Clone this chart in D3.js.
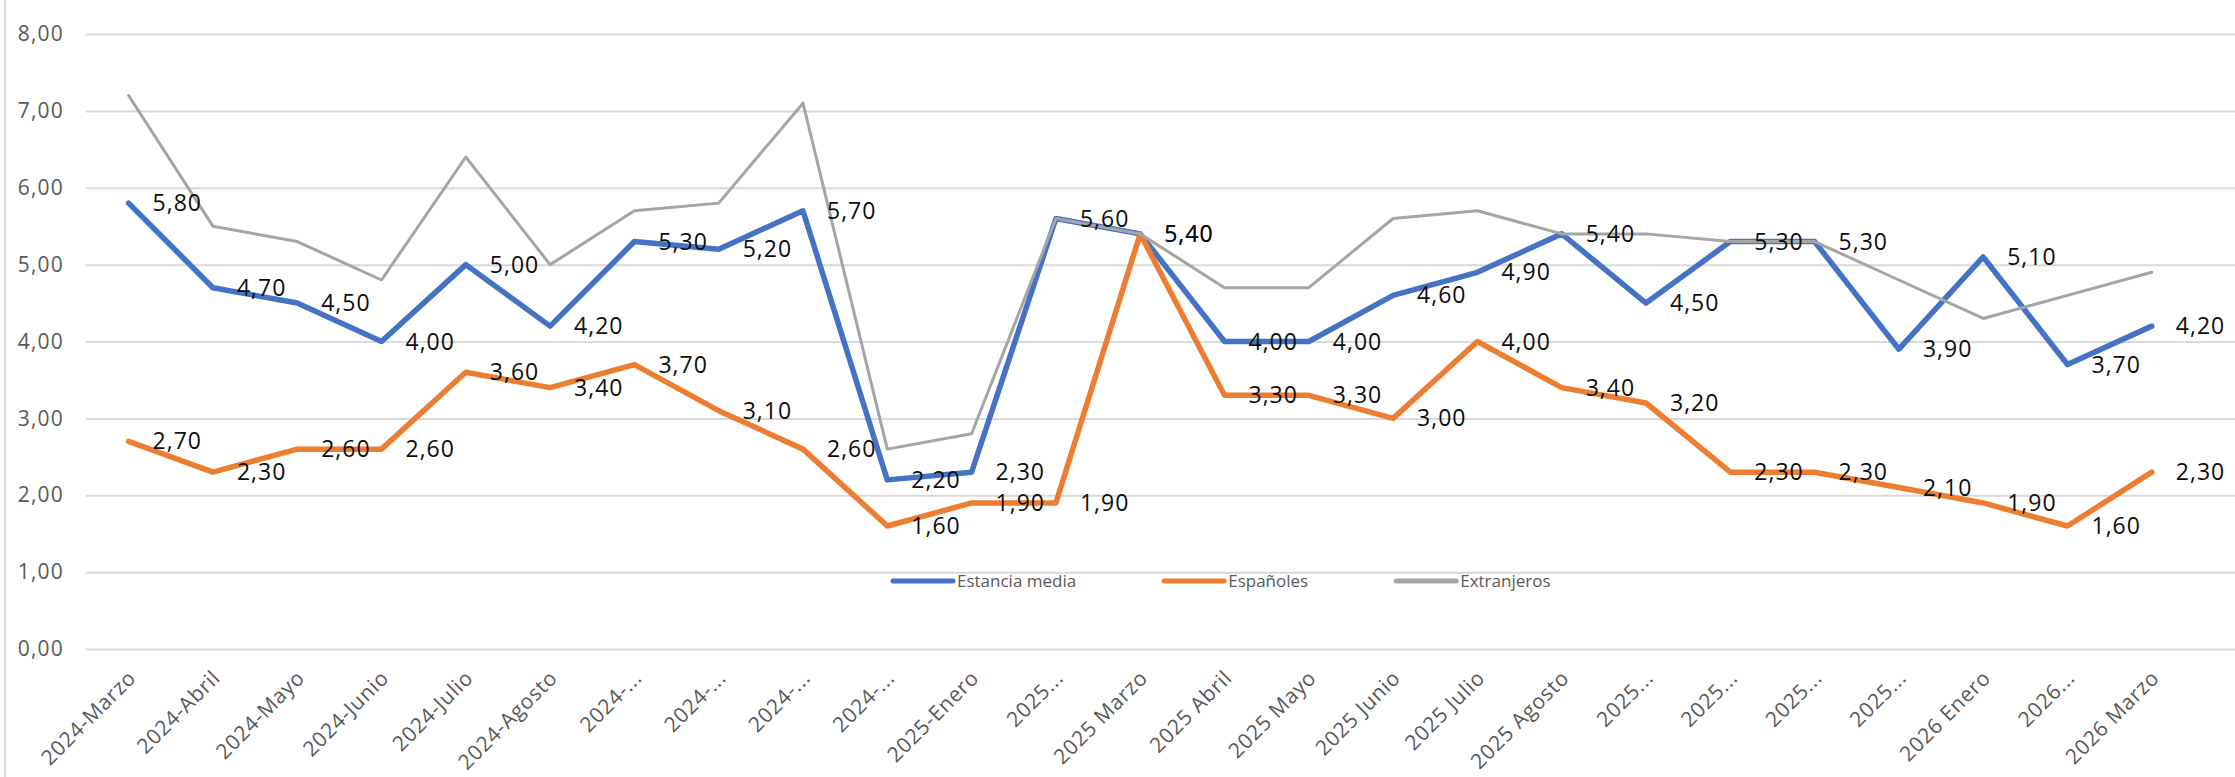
<!DOCTYPE html>
<html>
<head>
<meta charset="utf-8">
<script src="https://cdn.jsdelivr.net/npm/d3@7"></script>
<style>
  body { margin: 0; background: #fff; }
  svg { display: block; }
</style>
</head>
<body>
<div id="chart"></div>
<script>
// categories as they show on the axis (long ones are cut by the chart)
var categories = ['2024-Marzo', '2024-Abril', '2024-Mayo', '2024-Junio', '2024-Julio', '2024-Agosto',
  '2024-...', '2024-...', '2024-...', '2024-...', '2025-Enero', '2025...', '2025 Marzo', '2025 Abril',
  '2025 Mayo', '2025 Junio', '2025 Julio', '2025 Agosto', '2025...', '2025...', '2025...', '2025...',
  '2026 Enero', '2026...', '2026 Marzo'];

var estanciaMedia = [5.8, 4.7, 4.5, 4.0, 5.0, 4.2, 5.3, 5.2, 5.7, 2.2, 2.3, 5.6, 5.4,
  4.0, 4.0, 4.6, 4.9, 5.4, 4.5, 5.3, 5.3, 3.9, 5.1, 3.7, 4.2];
var espanoles = [2.7, 2.3, 2.6, 2.6, 3.6, 3.4, 3.7, 3.1, 2.6, 1.6, 1.9, 1.9, 5.4,
  3.3, 3.3, 3.0, 4.0, 3.4, 3.2, 2.3, 2.3, 2.1, 1.9, 1.6, 2.3];
var extranjeros = [7.2, 5.5, 5.3, 4.8, 6.4, 5.0, 5.7, 5.8, 7.1, 2.6, 2.8, 5.6, 5.4,
  4.7, 4.7, 5.6, 5.7, 5.4, 5.4, 5.3, 5.3, 4.8, 4.3, 4.6, 4.9];

var seriesNames = ['Estancia media', 'Españoles', 'Extranjeros'];
var yTicks = [0, 1, 2, 3, 4, 5, 6, 7, 8];

var width = 2235, height = 777;
var plotLeft = 86;
var font = '"Open Sans", sans-serif';

var series = [
  {name: seriesNames[0], values: estanciaMedia, color: '#4472C4', width: 5.5, labels: true},
  {name: seriesNames[1], values: espanoles, color: '#ED7D31', width: 5.5, labels: true},
  {name: seriesNames[2], values: extranjeros, color: '#A5A5A5', width: 3, labels: false}
];

var svg = d3.select('#chart').append('svg')
  .attr('width', width)
  .attr('height', height);

var x = d3.scalePoint()
  .domain(d3.range(categories.length))
  .range([128.6, 2151.8]);

var y = d3.scaleLinear()
  .domain([0, 8])
  .range([649, 34]);

function comma(v) { return d3.format('.2f')(v).replace('.', ','); }

// chart border on the left
svg.append('line')
  .attr('x1', 5).attr('x2', 5)
  .attr('y1', 0).attr('y2', height)
  .attr('stroke', '#D9D9D9')
  .attr('stroke-width', 2);

// y axis with gridlines
var yAxis = svg.append('g')
  .attr('transform', 'translate(' + plotLeft + ',0)')
  .call(d3.axisLeft(y)
    .tickValues(yTicks)
    .tickFormat(comma)
    .tickSize(-(width - plotLeft))
    .tickPadding(22));

yAxis.select('.domain').remove();
yAxis.selectAll('.tick line')
  .attr('stroke', '#D9D9D9')
  .attr('stroke-width', 2);
yAxis.selectAll('.tick text')
  .attr('fill', '#595959')
  .style('font-family', font)
  .style('font-size', '21px')
  .style('letter-spacing', '1.2px');

// x axis, rotated labels
var xAxis = svg.append('g')
  .attr('transform', 'translate(0,' + y(0) + ')')
  .call(d3.axisBottom(x)
    .tickFormat(function(i) { return categories[i]; })
    .tickSize(0));

xAxis.select('.domain').remove();
xAxis.selectAll('.tick text')
  .attr('x', 0)
  .attr('y', 0)
  .attr('dy', '0.35em')
  .attr('text-anchor', 'end')
  .attr('transform', 'translate(3,25) rotate(-45)')
  .attr('fill', '#595959')
  .style('font-family', font)
  .style('font-size', '21px')
  .style('letter-spacing', '0.7px');

// lines
var line = d3.line()
  .x(function(d, i) { return x(i); })
  .y(function(d) { return y(d); });

svg.selectAll('path.serie')
  .data(series).enter()
  .append('path')
  .attr('class', 'serie')
  .attr('d', function(d) { return line(d.values); })
  .attr('fill', 'none')
  .attr('stroke', function(d) { return d.color; })
  .attr('stroke-width', function(d) { return d.width; })
  .attr('stroke-linejoin', 'round')
  .attr('stroke-linecap', 'round');

// data labels, right of each point
series.filter(function(s) { return s.labels; }).forEach(function(s) {
  svg.append('g').selectAll('text')
    .data(s.values).enter()
    .append('text')
    .attr('x', function(d, i) { return x(i) + 24; })
    .attr('y', function(d) { return y(d); })
    .attr('dy', '0.35em')
    .attr('fill', '#0d0d0d')
    .style('font-family', font)
    .style('font-size', '23px')
    .style('letter-spacing', '1px')
    .text(comma);
});

// legend inside the plot
var legend = svg.append('g').attr('transform', 'translate(893,581)');
var lx = 0;
series.forEach(function(s) {
  var g = legend.append('g').attr('transform', 'translate(' + lx + ',0)');
  g.append('line')
    .attr('x1', 0).attr('x2', 60)
    .attr('y1', 0).attr('y2', 0)
    .attr('stroke', s.color)
    .attr('stroke-width', 5)
    .attr('stroke-linecap', 'round');
  var t = g.append('text')
    .attr('x', 64)
    .attr('dy', '0.35em')
    .attr('fill', '#595959')
    .style('font-family', font)
    .style('font-size', '17px')
    .text(s.name);
  lx += 64 + t.node().getComputedTextLength() + 88;
});
</script>
</body>
</html>
